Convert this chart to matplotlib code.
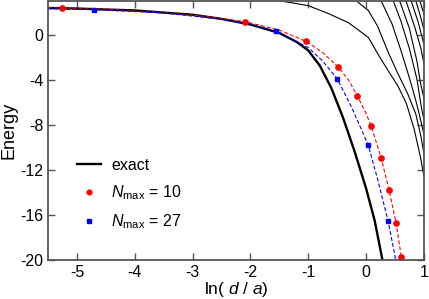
import numpy as np
import matplotlib
matplotlib.use('Agg')
import matplotlib.pyplot as plt

plt.rcParams['font.family'] = ['Liberation Sans', 'DejaVu Sans']
plt.rcParams['mathtext.fontset'] = 'custom'
plt.rcParams['mathtext.rm'] = 'Liberation Sans'
plt.rcParams['mathtext.it'] = 'Liberation Sans:italic'
plt.rcParams['axes.unicode_minus'] = False

# exact ground state (thick black)
exact_x = [-5.5, -5.0, -4.0, -3.0, -2.5, -2.0, -1.5, -1.2, -1.0, -0.8, -0.6, -0.4, -0.2, 0.0, 0.15, 0.30]
exact_E = [2.42, 2.37, 2.2, 1.82, 1.45, 0.95, 0.2, -0.6, -1.35, -2.7, -4.7, -7.3, -10.3, -13.6, -16.5, -20.4]

# N_max = 10 (red)
n10_x = [-5.26, -2.09, -1.03, -0.48, -0.15, 0.09, 0.26, 0.40, 0.52, 0.61]
n10_E = [2.39, 1.21, -0.56, -2.83, -5.40, -8.08, -10.88, -13.8, -16.7, -19.7]
n10_cx = [-5.5, -4.5, -3.5, -2.8, -2.09, -1.5, -1.03, -0.75, -0.48, -0.3, -0.15, 0.0, 0.09, 0.26, 0.40, 0.52, 0.61, 0.63]
n10_cE = [2.43, 2.3, 2.0, 1.68, 1.21, 0.45, -0.56, -1.55, -2.83, -4.0, -5.4, -6.95, -8.08, -10.88, -13.8, -16.7, -19.7, -20.3]

# N_max = 27 (blue)
n27_x = [-4.70, -1.55, -0.50, 0.04, 0.38]
n27_E = [2.27, 0.35, -3.86, -9.79, -16.5]
n27_cx = [-5.5, -4.7, -3.5, -2.5, -2.0, -1.55, -1.0, -0.75, -0.5, -0.25, 0.04, 0.2, 0.38, 0.5, 0.52]
n27_cE = [2.36, 2.27, 1.98, 1.42, 0.95, 0.35, -1.1, -2.3, -3.86, -6.4, -9.79, -12.8, -16.5, -19.6, -20.3]

# excited states (thin black)
thin_x = [
    [-1.5, -1.0, -0.64, -0.3, 0.04, 0.22, 0.4, 0.55, 0.7, 0.83, 0.94, 1.0],
    [-0.17, 0.04, 0.2, 0.39, 0.55, 0.72, 0.86, 0.95, 1.0],
    [0.26, 0.45, 0.6, 0.75, 0.85, 0.92, 1.0],
    [0.47, 0.6, 0.75, 0.88, 0.96, 1.0],
    [0.58, 0.75, 0.88, 0.94, 1.0],
    [0.69, 0.85, 0.95, 1.0],
    [0.78, 0.9, 1.0],
    [0.86, 0.94, 1.0],
    [0.93, 1.0],
]
thin_E = [
    [3.07, 2.63, 1.9, 1.1, -0.2, -1.8, -3.3, -4.5, -6.1, -8.3, -10.8, -12.5],
    [3.07, 2.19, 0.8, -1.6, -3.4, -5.2, -7.0, -9.0, -10.5],
    [3.07, 1.0, -1.3, -3.8, -5.6, -7.0, -8.8],
    [3.07, 1.3, -1.2, -3.9, -6.5, -7.5],
    [3.07, 0.6, -2.3, -4.2, -5.6],
    [3.07, 0.6, -1.2, -2.5],
    [3.07, 1.2, -0.8],
    [3.07, 1.7, 0.5],
    [3.07, 1.9],
]

fig = plt.figure(figsize=(4.29, 2.99), dpi=100)
ax = fig.add_axes([0.112, 0.13, 0.876, 0.867])

for tx, tE in zip(thin_x, thin_E):
    ax.plot(tx, tE, color='black', lw=0.8)
ax.plot(exact_x, exact_E, color='black', lw=1.7, label='exact')
ax.plot(n10_cx, n10_cE, color='#ff0000', lw=0.8, dashes=(3.5, 2))
ax.plot(n27_cx, n27_cE, color='#0000ff', lw=0.8, dashes=(3.5, 2))
ax.plot(n10_x, n10_E, 'o', color='#ff0000', ms=3.8, ls='none', label=r'$N_{\rm max}$ = 10')
ax.plot(n27_x, n27_E, 's', color='#0000ff', ms=3.2, ls='none', label=r'$N_{\rm max}$ = 27')

ax.set_xlim(-5.5, 1)
ax.set_ylim(-20, 3.05)
ax.set_xticks([-5, -4, -3, -2, -1, 0, 1])
ax.set_yticks([-20, -16, -12, -8, -4, 0])
ax.tick_params(direction='in', top=True, right=True, length=5, width=1, color='#555555', labelsize=11.5)
for s in ax.spines.values():
    s.set_color('#555555')
    s.set_linewidth(1.3)

ax.set_xlabel(r'ln( $d$ / $a$)', fontsize=12.5, labelpad=0)
ax.set_ylabel('Energy', fontsize=13, labelpad=2)

ax.legend(loc='upper left', bbox_to_anchor=(0.04, 0.45), frameon=False, fontsize=11.5,
          handlelength=1.5, labelspacing=0.65, handletextpad=0.6, markerscale=0.9)

fig.savefig('out.png', dpi=100)
